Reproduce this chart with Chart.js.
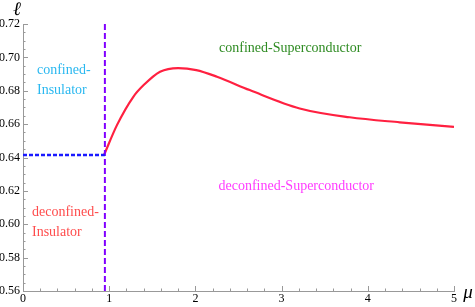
<!DOCTYPE html>
<html><head><meta charset="utf-8">
<script src="https://cdn.jsdelivr.net/npm/chart.js@4/dist/chart.umd.min.js"></script>
<style>html,body{margin:0;padding:0;background:#fff;}#w{width:475px;height:307px;}</style>
</head><body><div id="w"><canvas id="c"></canvas></div>
<script>
// Data
const muValues = [0.94, 1.09, 1.28, 1.40, 1.59, 1.80, 2.01, 2.25, 2.63, 3.21, 3.79, 4.37, 5.0];
const ellValues = [0.6415, 0.6594, 0.6764, 0.6834, 0.6914, 0.6936, 0.6924, 0.6884, 0.6804, 0.6694, 0.6641, 0.6611, 0.6584];
const muCritical = 0.95;
const ellCritical = 0.6415;
const xRange = [0, 5];
const yRange = [0.56, 0.72];
const xTicks = [0, 1, 2, 3, 4, 5];
const yTicks = [0.56, 0.58, 0.60, 0.62, 0.64, 0.66, 0.68, 0.70, 0.72];
const regionLabels = ['confined-Superconductor', 'deconfined-Superconductor', 'confined-\nInsulator', 'deconfined-\nInsulator'];
const regionMu = [3.10, 3.17, 0.162, 0.104];
const regionEll = [0.7054, 0.6229, 0.692, 0.6069];
const regionAlign = ['center', 'center', 'left', 'left'];
const regionColors = ['#2e8b22', '#ff3cff', '#2ab8f0', '#ff4c4c'];

const curve = muValues.map((m, i) => ({x: m, y: ellValues[i]}));
const vLine = [{x: muCritical, y: yRange[0]}, {x: muCritical, y: yRange[1]}];
const hLine = [{x: xRange[0], y: ellCritical}, {x: muCritical, y: ellCritical}];

const serif = '"Liberation Serif", "DejaVu Serif", serif';

const decor = {
  id: 'decor',
  afterDraw(chart) {
    const {ctx, scales: {x, y}} = chart;
    ctx.save();
    ctx.strokeStyle = '#999';
    ctx.lineWidth = 1;
    // inward ticks
    const x0 = x.left, yb = y.bottom;
    for (let v = 0; v <= 5.0001; v += 0.2) {
      const px = Math.round(x.getPixelForValue(v)) + 0.5;
      const major = Math.abs(v - Math.round(v)) < 1e-6;
      ctx.beginPath(); ctx.moveTo(px, yb); ctx.lineTo(px, yb - (major ? 5 : 2.5)); ctx.stroke();
    }
    for (let k = 0; k <= 32; k++) {
      const v = 0.56 + k * 0.005;
      const py = Math.round(y.getPixelForValue(v)) + 0.5;
      const major = k % 4 === 0;
      ctx.beginPath(); ctx.moveTo(x0, py); ctx.lineTo(x0 + (major ? 5 : 2.5), py); ctx.stroke();
    }
    // region labels
    ctx.font = '14px ' + serif;
    ctx.textBaseline = 'middle';
    regionLabels.forEach((t, i) => {
      ctx.fillStyle = regionColors[i];
      ctx.textAlign = regionAlign[i];
      const px = x.getPixelForValue(regionMu[i]);
      const py = y.getPixelForValue(regionEll[i]);
      t.split('\n').forEach((line, j) => ctx.fillText(line, px, py + j * 20));
    });
    // axis labels
    ctx.fillStyle = '#000';
    ctx.font = 'italic 19px ' + serif;
    ctx.textAlign = 'center';
    ctx.fillText('ℓ', x.left - 6, y.top - 14);
    ctx.fillText('μ', x.right + 14, y.bottom + 2);
    ctx.restore();
  }
};

new Chart(document.getElementById('c'), {
  type: 'line',
  data: {
    datasets: [
      {data: hLine, borderColor: '#1a1aff', borderWidth: 2.5, borderDash: [4, 2], pointRadius: 0, tension: 0},
      {data: vLine, borderColor: '#8000ff', borderWidth: 2, borderDash: [6, 3], pointRadius: 0, tension: 0},
      {data: curve, borderColor: '#ff2040', borderWidth: 2.2, pointRadius: 0, cubicInterpolationMode: 'monotone'}
    ]
  },
  options: {
    responsive: true,
    maintainAspectRatio: false,
    animation: false,
    events: [],
    layout: {padding: {left: 0, top: 24, right: 21, bottom: 0}},
    plugins: {legend: {display: false}, tooltip: {enabled: false}},
    scales: {
      x: {
        type: 'linear', min: xRange[0], max: xRange[1],
        afterFit: s => { s.height = 16; },
        afterBuildTicks: s => { s.ticks = xTicks.map(v => ({value: v})); },
        grid: {display: false, drawTicks: false},
        border: {display: true, color: '#999', width: 1},
        ticks: {color: '#000', font: {family: serif, size: 12}, padding: 1, maxRotation: 0, callback: v => String(v)}
      },
      y: {
        type: 'linear', min: yRange[0], max: yRange[1],
        afterFit: s => { s.width = 23; },
        afterBuildTicks: s => { s.ticks = yTicks.map(v => ({value: v})); },
        grid: {display: false, drawTicks: false},
        border: {display: true, color: '#999', width: 1},
        ticks: {color: '#000', font: {family: serif, size: 12}, padding: 3, callback: v => v.toFixed(2)}
      }
    }
  },
  plugins: [decor]
});
</script>
</body></html>
